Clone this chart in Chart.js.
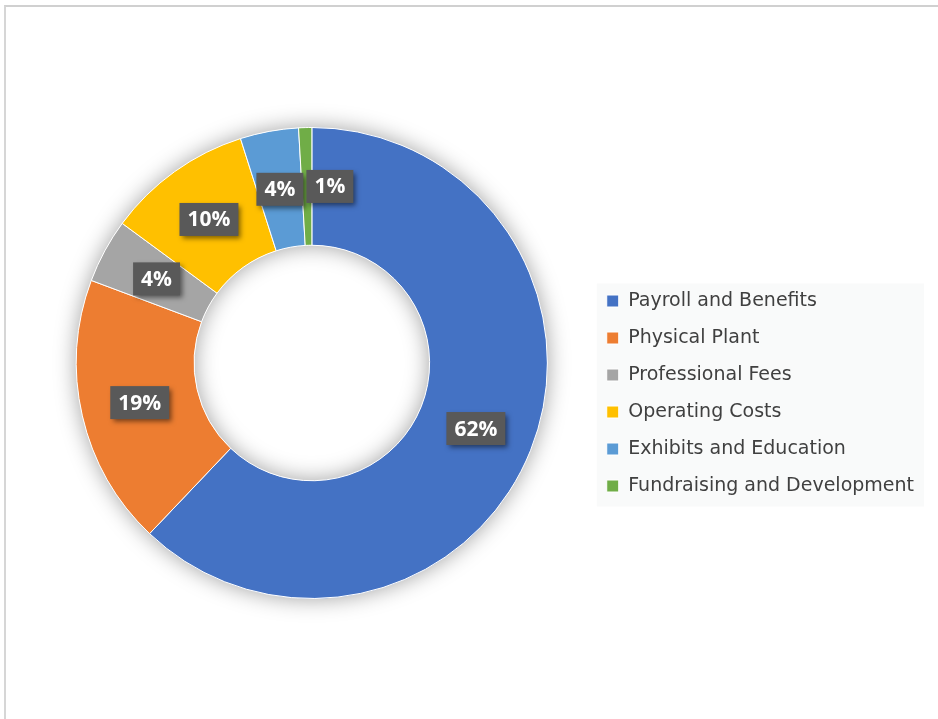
<!DOCTYPE html>
<html>
<head>
<meta charset="utf-8">
<script src="https://cdn.jsdelivr.net/npm/chart.js@4.4.0/dist/chart.umd.min.js"></script>
<style>
  html, body { margin: 0; padding: 0; background: #fff; overflow: hidden; }
  /* the sheet frame: only top and left edges are visible in the crop */
  #frame { position: absolute; left: 4px; top: 5px; width: 1000px; height: 800px;
           border-left: 2px solid #d6d6d6; border-top: 2px solid #d0d0d0; }
  #wrap { position: absolute; left: 0; top: 0; width: 938px; height: 719px; }
</style>
</head>
<body>
<div id="frame"></div>
<div id="wrap"><canvas id="chart"></canvas></div>
<script>
// expense breakdown (percent of total)
const categories = ['Payroll and Benefits', 'Physical Plant', 'Professional Fees',
                    'Operating Costs', 'Exhibits and Education', 'Fundraising and Development'];
const shares = [62.1, 18.6, 4.4, 10.0, 4.0, 0.9];
const sliceColors = ['#4472C4', '#ED7D31', '#A5A5A5', '#FFC000', '#5B9BD5', '#70AD47'];

// soft shadow under the whole ring (outside edge and inside the hole)
const ringShadow = {
  id: 'ringShadow',
  beforeDatasetsDraw(chart) {
    const arc = chart.getDatasetMeta(0).data[0];
    if (!arc) return;
    const {x, y, innerRadius, outerRadius} = arc;
    const ctx = chart.ctx;
    ctx.save();
    ctx.shadowColor = 'rgba(0,0,0,0.38)';
    ctx.shadowBlur = 22;
    ctx.fillStyle = '#fff';
    ctx.beginPath();
    ctx.arc(x, y, outerRadius, 0, Math.PI * 2);
    ctx.arc(x, y, innerRadius, 0, Math.PI * 2, true);
    ctx.fill();
    ctx.restore();
  }
};

// light panel behind the legend items
const legendPanel = {
  id: 'legendPanel',
  beforeDraw(chart) {
    const hb = chart.legend && chart.legend.legendHitBoxes;
    if (!hb || !hb.length) return;
    const left = hb[0].left - 10;
    const top = hb[0].top - 8;
    const right = Math.max(...hb.map(b => b.left + b.width)) + 10;
    const bottom = hb[hb.length - 1].top + hb[hb.length - 1].height + 11;
    const ctx = chart.ctx;
    ctx.save();
    ctx.fillStyle = '#f9fafa';
    ctx.fillRect(left, top, right - left, bottom - top);
    ctx.restore();
  }
};

// dark percentage boxes on each slice
const sliceLabels = {
  id: 'sliceLabels',
  afterDatasetsDraw(chart) {
    const ctx = chart.ctx;
    const data = chart.data.datasets[0].data;
    const total = data.reduce((a, b) => a + b, 0);
    ctx.save();
    ctx.font = 'bold 21px "Open Sans"';
    ctx.textAlign = 'center';
    ctx.textBaseline = 'middle';
    chart.getDatasetMeta(0).data.forEach((arc, i) => {
      const pos = arc.tooltipPosition();
      let cx = pos.x, cy = pos.y;
      if (i === data.length - 1) cx += 23; // tiny slice label pushed aside, like the original
      const text = Math.round(data[i] / total * 100) + '%';
      const w = ctx.measureText(text).width + 16;
      const h = 33;
      ctx.shadowColor = 'rgba(0,0,0,0.5)';
      ctx.shadowBlur = 5;
      ctx.shadowOffsetX = 3;
      ctx.shadowOffsetY = 3;
      ctx.fillStyle = '#595959';
      ctx.fillRect(cx - w / 2, cy - h / 2, w, h);
      ctx.shadowColor = 'transparent';
      ctx.fillStyle = '#fff';
      ctx.fillText(text, cx, cy + 1);
    });
    ctx.restore();
  }
};

new Chart(document.getElementById('chart'), {
  type: 'doughnut',
  data: {
    labels: categories,
    datasets: [{
      data: shares,
      backgroundColor: sliceColors,
      borderColor: '#ffffff',
      borderWidth: 1
    }]
  },
  options: {
    responsive: true,
    maintainAspectRatio: false,
    animation: false,
    cutout: '50%',
    layout: { padding: { top: 127, bottom: 120, left: 35, right: 14 } },
    plugins: {
      tooltip: { enabled: false },
      legend: {
        position: 'right',
        // empty title only used to push the item list down a bit
        title: { display: true, text: '', padding: { top: 60, bottom: 0 }, font: { size: 1, lineHeight: 1 } },
        labels: {
          boxWidth: 12,
          boxHeight: 12,
          padding: 18,
          color: '#404040',
          font: { family: '"DejaVu Sans"', size: 19 }
        }
      }
    }
  },
  plugins: [ringShadow, legendPanel, sliceLabels]
});
</script>
</body>
</html>
